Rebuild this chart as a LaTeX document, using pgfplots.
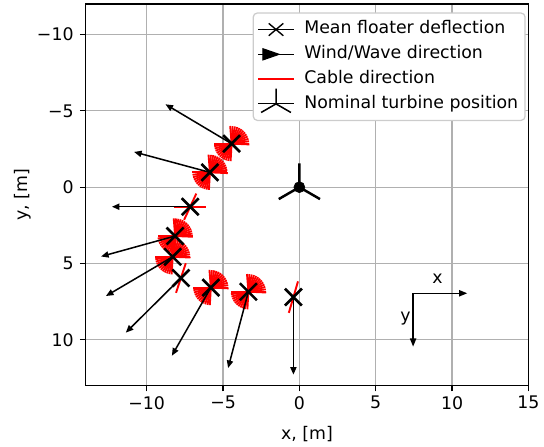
\documentclass[border=0pt]{standalone}
\usepackage{fontspec}
\setmainfont{DejaVu Sans}
\usepackage{pgfplots}
\usepackage{pgfplotstable}
\pgfplotsset{compat=1.18}
\usetikzlibrary{arrows.meta,plotmarks}

\definecolor{gridgray}{HTML}{B0B0B0}
\definecolor{legendgray}{HTML}{CCCCCC}

% mean floater positions [m]
\pgfplotstableread{
x y
-4.44 -2.85
-5.86 -0.97
-7.15 1.28
-8.14 3.20
-8.30 4.56
-7.76 5.95
-5.80 6.58
-3.34 6.85
-0.39 7.20
}\floater

% wind/wave arrows: start + vector
\pgfplotstableread{
x y u v
-4.44 -2.85 -4.33 -2.58
-5.86 -0.97 -4.97 -1.34
-7.15 1.28 -5.13 0
-8.14 3.20 -4.85 1.34
-8.30 4.56 -4.37 2.57
-7.76 5.95 -3.61 3.58
-5.80 6.58 -2.55 4.46
-3.34 6.85 -1.33 5.00
-0.39 7.20 0 5.08
}\wind

% cable directions, one fan of half-lines around a floater
\pgfplotstableread{
u v
1.170 0.050
1.150 0
1.139 -0.160
1.105 -0.317
1.050 -0.468
0.975 -0.609
0.881 -0.739
0.772 -0.852
0.650 -0.949
0.515 -1.028
0.370 -1.089
0.218 -1.129
0.064 -1.148
-0.090 -1.160
-1.150 0
-1.139 0.160
-1.105 0.317
-1.050 0.468
-0.975 0.609
-0.881 0.739
-0.772 0.852
-0.650 0.949
-0.515 1.028
-0.370 1.089
-0.218 1.129
-0.064 1.148
}\fan

% single cable directions
\pgfplotstableread{
x y u v
-7.15 1.28 1.04 0
-7.15 1.28 -1.04 0
-7.15 1.28 0.40 -0.86
-7.15 1.28 -0.40 0.86
-7.76 5.95 0.32 -0.97
-7.76 5.95 -0.32 0.97
-0.39 7.20 0.30 -1.03
-0.39 7.20 -0.30 1.03
}\cables

% x/y direction key
\pgfplotstableread{
x y u v
7.45 6.95 3.55 0
7.45 6.95 0 3.50
}\key

\begin{document}
\begin{tikzpicture}
\begin{axis}[
    scale only axis,
    width=321.6pt, height=277.2pt,
    xmin=-14, xmax=15, ymin=-12, ymax=13,
    y dir=reverse,
    xtick={-10,-5,0,5,10,15},
    xticklabels={−10,−5,0,5,10,15},
    ytick={-10,-5,0,5,10},
    yticklabels={−10,−5,0,5,10},
    grid=major,
    grid style={color=gridgray, line width=0.9pt},
    axis line style={line width=0.9pt},
    tick align=outside,
    tick style={black, line width=0.9pt},
    major tick length=4.2pt,
    xtick pos=left, ytick pos=left,
    tick label style={font=\fontsize{12.6}{14}\selectfont},
    yticklabel style={xshift=-1pt},
    every axis x label/.style={at={(axis description cs:0.5,0)}, anchor=center, yshift=-35.5pt},
    every axis y label/.style={at={(axis description cs:0,0.5)}, anchor=center, xshift=-45.4pt, rotate=90},
    label style={font=\fontsize{12.6}{14}\selectfont},
    xlabel={x, [m]}, ylabel={y, [m]},
    legend cell align=left,
    legend style={at={(0.994,0.978)}, anchor=north east,
        draw=legendgray, line width=0.9pt, rounded corners=3pt, fill=white,
        font=\fontsize{12.6}{14}\selectfont, row sep=0pt, column sep=5pt, inner sep=3pt,
        nodes={text height=9.2pt, text depth=2.8pt, inner ysep=3pt}},
]
\addlegendimage{legend image code/.code={
    \path (0pt,0pt) -- (26pt,0pt);
    \draw[sharp corners, black, line width=1pt] (13pt,0pt) +(-5.3pt,-4.5pt) -- +(5.3pt,4.5pt) +(-5.3pt,4.5pt) -- +(5.3pt,-4.5pt);}}
\addlegendentry{Mean floater deflection}
\addlegendimage{legend image code/.code={
    \draw[sharp corners, black, line width=1.1pt] (0pt,0pt) -- (26pt,0pt);
    \fill[sharp corners, black] (15pt,0pt) -- (3.5pt,4pt) -- (3.5pt,-4pt) -- cycle;}}
\addlegendentry{Wind/Wave direction}
\addlegendimage{legend image code/.code={
    \draw[sharp corners, red, line width=1.1pt] (0pt,0pt) -- (26pt,0pt);}}
\addlegendentry{Cable direction}
\addlegendimage{legend image code/.code={
    \path (0pt,0pt) -- (26pt,0pt);
    \draw[sharp corners, black, line width=1.1pt, overlay] (13pt,0pt) -- +(90:11pt) (13pt,0pt) -- +(210:12.5pt) (13pt,0pt) -- +(-30:12.5pt);}}
\addlegendentry{Nominal turbine position}

% floaters
\addplot[forget plot, only marks, mark=x, mark size=8.7pt,
    mark options={black, line width=1.9pt}] table {\floater};

% cable fans
\addplot[forget plot, red, line width=1.35pt, quiver={u=\thisrow{u}, v=\thisrow{v}}] table[x expr=-4.44, y expr=-2.85] {\fan};
\addplot[forget plot, red, line width=1.35pt, quiver={u=\thisrow{u}, v=\thisrow{v}}] table[x expr=-5.86, y expr=-0.97] {\fan};
\addplot[forget plot, red, line width=1.35pt, quiver={u=\thisrow{u}, v=\thisrow{v}}] table[x expr=-8.14, y expr=3.20] {\fan};
\addplot[forget plot, red, line width=1.35pt, quiver={u=\thisrow{u}, v=\thisrow{v}}] table[x expr=-8.30, y expr=4.56] {\fan};
\addplot[forget plot, red, line width=1.35pt, quiver={u=\thisrow{u}, v=\thisrow{v}}] table[x expr=-5.80, y expr=6.58] {\fan};
\addplot[forget plot, red, line width=1.35pt, quiver={u=\thisrow{u}, v=\thisrow{v}}] table[x expr=-3.34, y expr=6.85] {\fan};
\addplot[forget plot, red, line width=1.4pt, quiver={u=\thisrow{u}, v=\thisrow{v}}] table {\cables};

% wind / wave
\addplot[forget plot, black, line width=1.1pt, -{Triangle[length=5.5pt,width=4.5pt]},
    quiver={u=\thisrow{u}, v=\thisrow{v}}] table {\wind};

% nominal turbine
\addplot[forget plot, only marks, mark=Mercedes star, mark size=17.3pt,
    mark options={black, line width=1.8pt}] coordinates {(0,0)};
\addplot[forget plot, only marks, mark=*, mark size=4pt, black] coordinates {(0,0)};

% coordinate key
\addplot[forget plot, black, line width=1.1pt, -{Triangle[length=6pt,width=4.5pt]},
    quiver={u=\thisrow{u}, v=\thisrow{v}}] table {\key};
\node[font=\fontsize{12.6}{14}\selectfont] at (axis cs:9.05,6.0) {x};
\node[font=\fontsize{12.6}{14}\selectfont] at (axis cs:6.95,8.6) {y};

\coordinate (bl) at (axis description cs:0,0);
\coordinate (tr) at (axis description cs:1,1);
\end{axis}
\path (bl) ++(-62.2pt,-41.8pt);
\path (tr) ++(7.9pt,2.9pt);
\end{tikzpicture}
\end{document}
